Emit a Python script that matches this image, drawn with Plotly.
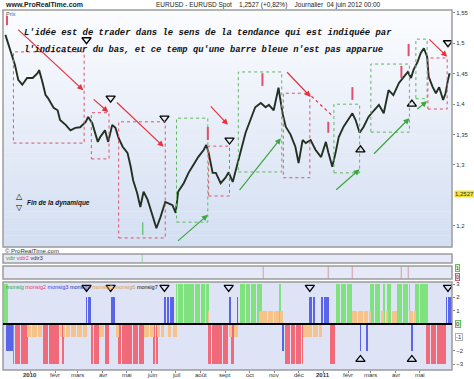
import plotly.graph_objects as go
import pandas as pd

# ---------------- DATA ----------------
price_dates = ["2009-12-01","2009-12-04","2009-12-10","2009-12-13","2009-12-17","2009-12-22","2009-12-28",
 "2010-01-04","2010-01-10","2010-01-12","2010-01-16","2010-01-20","2010-01-23","2010-01-30","2010-02-04",
 "2010-02-07","2010-02-14","2010-02-20","2010-02-26","2010-03-04","2010-03-11","2010-03-14","2010-03-19",
 "2010-03-26","2010-03-29","2010-04-04","2010-04-08","2010-04-13","2010-04-17","2010-04-21","2010-04-26",
 "2010-05-02","2010-05-06","2010-05-09","2010-05-14","2010-05-18","2010-05-22","2010-05-27","2010-05-31",
 "2010-06-07","2010-06-12","2010-06-18","2010-06-22","2010-06-27","2010-07-01","2010-07-04","2010-07-11",
 "2010-07-17","2010-07-23","2010-07-29","2010-08-05","2010-08-08","2010-08-11","2010-08-16","2010-08-20",
 "2010-08-26","2010-09-01","2010-09-05","2010-09-10","2010-09-16","2010-09-20","2010-09-26","2010-10-02",
 "2010-10-08","2010-10-15","2010-10-21","2010-10-25","2010-10-31","2010-11-06","2010-11-11","2010-11-15",
 "2010-11-21","2010-11-27","2010-12-01","2010-12-06","2010-12-10","2010-12-16","2010-12-22","2010-12-29",
 "2011-01-04","2011-01-07","2011-01-12","2011-01-16","2011-01-20","2011-01-26","2011-02-01","2011-02-06",
 "2011-02-10","2011-02-15","2011-02-20","2011-02-26","2011-03-05","2011-03-11","2011-03-17","2011-03-23",
 "2011-03-29","2011-04-05","2011-04-11","2011-04-16","2011-04-20","2011-04-23","2011-04-28","2011-05-02",
 "2011-05-06","2011-05-10","2011-05-12","2011-05-17","2011-05-21","2011-05-25","2011-05-30","2011-06-02",
 "2011-06-05","2011-06-07"]
price_close = [1.514,1.502,1.478,1.464,1.440,1.432,1.443,
 1.443,1.451,1.456,1.437,1.415,1.410,1.394,1.390,
 1.374,1.366,1.357,1.361,1.362,1.371,1.379,1.369,
 1.338,1.346,1.357,1.338,1.366,1.361,1.344,1.330,
 1.320,1.297,1.275,1.254,1.231,1.256,1.243,1.226,
 1.196,1.214,1.239,1.237,1.234,1.221,1.256,1.270,
 1.287,1.300,1.313,1.325,1.333,1.320,1.287,1.287,
 1.270,1.279,1.288,1.272,1.303,1.320,1.353,1.374,
 1.395,1.402,1.395,1.399,1.390,1.427,1.385,1.363,
 1.350,1.330,1.303,1.341,1.336,1.341,1.325,1.313,
 1.338,1.321,1.297,1.320,1.346,1.363,1.374,1.385,
 1.374,1.353,1.363,1.379,1.390,1.399,1.385,1.423,
 1.415,1.435,1.445,1.453,1.443,1.456,1.469,1.484,
 1.492,1.478,1.445,1.428,1.418,1.428,1.407,1.418,
 1.440,1.451]

last_quote = 1.2527
price_ticks = [1.2, 1.3, 1.35, 1.4, 1.45, 1.5, 1.55]
price_tick_labels = ["1,2", "1,3", "1,35", "1,4", "1,45", "1,5", "1,55"]

# zones drawn on the price chart: (start, end, low, high)
red_zones = [("2009-12-11","2010-03-09",1.336,1.486),("2010-03-18","2010-04-09",1.310,1.386),
             ("2010-04-21","2010-06-18",1.180,1.371),("2010-08-11","2010-09-06",1.249,1.331),
             ("2010-11-12","2010-12-15",1.279,1.418),("2011-05-11","2011-06-04",1.392,1.476)]
green_zones = [("2010-07-02","2010-08-10",1.206,1.377),("2010-09-17","2010-11-10",1.2885,1.453),
               ("2011-01-14","2011-02-15",1.287,1.400),("2011-03-01","2011-04-18",1.354,1.466),
               ("2011-04-26","2011-05-10",1.409,1.507)]
# arrows: (tail date, tail price, head date, head price)
red_arrows = [("2009-12-15",1.525,"2010-03-08",1.423),("2010-03-19",1.410,"2010-04-08",1.387),
              ("2010-04-17",1.405,"2010-06-16",1.330),("2010-08-12",1.399,"2010-09-04",1.366),
              ("2010-11-15",1.455,"2010-12-16",1.412),("2011-05-11",1.509,"2011-06-04",1.478)]
red_dotted_arrows = [("2010-12-17",1.413,"2011-01-12",1.381)]
green_arrows = [("2010-07-02",1.173,"2010-08-10",1.218),("2010-09-17",1.256,"2010-11-09",1.344),
                ("2011-01-15",1.257,"2011-02-15",1.293),("2011-03-03",1.316,"2011-04-18",1.377),
                ("2011-04-26",1.390,"2011-05-10",1.405)]
# short red marks: (date, low, high)
red_marks = [("2009-12-03",1.530,1.545),("2010-08-10",1.341,1.3625),("2010-10-17",1.430,1.451),
             ("2011-01-07",1.353,1.371),("2011-02-06",1.407,1.428),("2011-04-08",1.443,1.463),
             ("2011-04-17",1.479,1.499)]
green_marks = [("2010-05-21",1.185,1.206)]
tri_down_dates = ["2010-03-12","2010-04-11","2010-06-17","2010-09-06","2011-06-05"]
tri_down_prices = [1.506,1.410,1.377,1.341,1.501]
tri_up_dates = ["2011-02-16","2011-04-21"]
tri_up_prices = [1.325,1.400]

# vdtr panel / third panel events
vdtr_dates = ["2010-05-21"]
vdtr2_dates = ["2009-12-03","2010-08-10","2010-10-18","2011-01-07","2011-02-06","2011-04-08","2011-04-17"]

# monsig histogram: segments (start, end, value)
monsig = [("2009-11-27","2009-12-03",3),("2010-07-02","2010-08-10",3),("2010-09-20","2010-10-13",3),
          ("2010-10-15","2010-10-15",3),("2010-11-08","2010-11-08",3),("2011-01-17","2011-02-06",3),
          ("2011-03-01","2011-03-13",3),("2011-03-17","2011-03-20",3),("2011-03-22","2011-03-27",3),
          ("2011-04-04","2011-04-18",3),("2011-04-26","2011-05-10",3)]
monsig2 = [("2009-12-11","2009-12-28",-3),("2010-01-18","2010-02-07",-3),("2010-02-10","2010-02-11",-3),
           ("2010-03-18","2010-03-28",-3),("2010-04-05","2010-04-08",-3),("2010-04-21","2010-05-21",-3),
           ("2010-06-04","2010-06-08",-3),("2010-08-11","2010-09-03",-3),("2010-09-09","2010-09-10",-3),
           ("2010-11-15","2010-12-06",-3),("2011-01-10","2011-01-14",-3),("2011-05-10","2011-06-01",-3)]
monsig3 = [("2010-03-12","2010-03-17",2),("2010-04-12","2010-04-16",2),("2010-06-17","2010-06-22",2),
           ("2010-06-25","2010-06-28",2),("2010-09-06","2010-09-07",2),("2010-09-16","2010-09-16",2),
           ("2010-12-15","2010-12-17",2),("2010-12-20","2010-12-21",2),("2010-12-30","2011-01-07",2),
           ("2011-06-03","2011-06-09",2),
           ("2009-12-03","2009-12-10",-2),("2010-11-11","2010-11-12",-2),("2011-02-16","2011-02-16",-2),
           ("2011-02-24","2011-02-24",-2),("2011-04-21","2011-04-21",-2)]
monsig5 = [("2010-08-11","2010-08-11",1),("2010-10-14","2010-11-05",1),("2010-11-09","2010-11-10",1),
           ("2011-02-07","2011-02-28",1),("2011-03-14","2011-03-16",1),("2011-03-21","2011-03-21",1),
           ("2011-03-28","2011-04-03",1),("2011-04-19","2011-04-25",1),
           ("2009-12-29","2010-01-15",-1),("2010-02-08","2010-02-09",-1),("2010-02-12","2010-03-11",-1),
           ("2010-03-29","2010-04-02",-1),("2010-04-19","2010-04-20",-1),("2010-05-24","2010-06-03",-1),
           ("2010-06-09","2010-06-16",-1),("2010-06-23","2010-06-24",-1),("2010-06-29","2010-07-01",-1),
           ("2010-09-06","2010-09-08",-1),("2010-09-13","2010-09-15",-1),("2010-12-07","2010-12-29",-1)]
sig_tri_down_dates = ["2010-03-12","2010-04-11","2010-06-17","2010-09-05","2010-12-15","2011-06-05"]
sig_tri_up_dates = ["2011-02-16","2011-04-21"]

month_ticks = ["2010-01-01","2010-02-01","2010-03-01","2010-04-01","2010-05-01","2010-06-01","2010-07-01",
               "2010-08-01","2010-09-01","2010-10-01","2010-11-01","2010-12-01","2011-01-01","2011-02-01",
               "2011-03-01","2011-04-01","2011-05-01"]
month_labels = ["<b>2010</b>","févr","mars","avr","mai","juin","juil","août","sept","oct","nov","déc",
                "<b>2011</b>","févr","mars","avr","mai"]

# ---------------- STYLE / LAYOUT ----------------
W, H = 474, 379
def py(p):  # pixel row -> paper y
    return 1 - p / H
XD = [3 / W, 452 / W]
D_MAIN = [py(247), py(10)]
D_P2 = [py(263), py(254)]
D_P3 = [py(279), py(266)]
D_P4 = [py(370), py(282)]
XR = ["2009-11-28", "2011-06-10"]

RED = "#e8313a"
RED_Z = "#e0506a"
GREEN = "#3aa83a"
GREEN_Z = "#5cb85c"
C_GREEN = "#80e27e"
C_RED = "#f06a7a"
C_BLUE = "#5a64e6"
C_ORANGE = "#f6c48a"

fig = go.Figure()

# price line
fig.add_trace(go.Scatter(x=price_dates, y=price_close, mode="lines",
                         line=dict(color="#223022", width=1.9), xaxis="x", yaxis="y", hoverinfo="skip"))
# triangles on price
fig.add_trace(go.Scatter(x=tri_down_dates, y=tri_down_prices, mode="markers", xaxis="x", yaxis="y",
                         marker=dict(symbol="triangle-down-open", size=8, color="black", line=dict(width=1.3))))
fig.add_trace(go.Scatter(x=tri_up_dates, y=tri_up_prices, mode="markers", xaxis="x", yaxis="y",
                         marker=dict(symbol="triangle-up-open", size=8, color="black", line=dict(width=1.3))))

DAY = 86400000
def expand(segs):
    xs, ys = [], []
    for s, e, v in segs:
        for d in pd.bdate_range(s, e):
            xs.append(d)
            ys.append(v)
    return xs, ys

for segs, col in [(monsig, C_GREEN), (monsig2, C_RED), (monsig3, C_BLUE), (monsig5, C_ORANGE)]:
    xs, ys = expand(segs)
    fig.add_trace(go.Bar(x=xs, y=ys, marker=dict(color=col, line=dict(width=0)), width=0.8 * DAY,
                         xaxis="x4", yaxis="y4", hoverinfo="skip"))
fig.add_trace(go.Scatter(x=sig_tri_down_dates, y=[2.75] * len(sig_tri_down_dates), mode="markers",
                         xaxis="x4", yaxis="y4",
                         marker=dict(symbol="triangle-down-open", size=8, color="black", line=dict(width=1.3))))
fig.add_trace(go.Scatter(x=sig_tri_up_dates, y=[-2.65] * len(sig_tri_up_dates), mode="markers",
                         xaxis="x4", yaxis="y4",
                         marker=dict(symbol="triangle-up-open", size=8, color="black", line=dict(width=1.3))))

fig.add_trace(go.Bar(x=vdtr_dates, y=[1] * len(vdtr_dates), width=0.7 * DAY, marker=dict(color="#5cc05c"),
                     xaxis="x2", yaxis="y2", hoverinfo="skip"))
fig.add_trace(go.Bar(x=vdtr2_dates, y=[1] * len(vdtr2_dates), width=0.7 * DAY, marker=dict(color="#d0606e"),
                     xaxis="x3", yaxis="y3", hoverinfo="skip"))

shapes = []
# gradient background of the price panel
N = 40
top = (252, 253, 255)
bot = (212, 223, 243)
for i in range(N):
    t = (i + 0.5) / N
    c = tuple(int(top[k] + (bot[k] - top[k]) * t) for k in range(3))
    y1 = D_MAIN[1] - (D_MAIN[1] - D_MAIN[0]) * i / N
    y0 = D_MAIN[1] - (D_MAIN[1] - D_MAIN[0]) * (i + 1) / N
    shapes.append(dict(type="rect", xref="paper", yref="paper", x0=XD[0], x1=XD[1], y0=y0 - 0.001, y1=y1,
                       fillcolor="rgb(%d,%d,%d)" % c, line=dict(width=0), layer="below"))
for dom, col in [(D_P2, "#e6e9f8"), (D_P3, "#e6e9f8"), (D_P4, "#dfe3f6")]:
    shapes.append(dict(type="rect", xref="paper", yref="paper", x0=XD[0], x1=XD[1], y0=dom[0], y1=dom[1],
                       fillcolor=col, line=dict(width=0), layer="below"))
# panel frames
for dom in [D_MAIN, D_P2, D_P3, D_P4]:
    shapes.append(dict(type="rect", xref="paper", yref="paper", x0=XD[0], x1=XD[1], y0=dom[0], y1=dom[1],
                       line=dict(color="#9c9c9c", width=1.5), fillcolor="rgba(0,0,0,0)"))
# zero line
shapes.append(dict(type="line", xref="paper", yref="y4", x0=XD[0], x1=XD[1], y0=0, y1=0,
                   line=dict(color="black", width=2)))

for s, e, lo, hi in red_zones:
    shapes.append(dict(type="rect", xref="x", yref="y", x0=s, x1=e, y0=lo, y1=hi,
                       line=dict(color=RED_Z, width=1, dash="dot")))
for s, e, lo, hi in green_zones:
    shapes.append(dict(type="rect", xref="x", yref="y", x0=s, x1=e, y0=lo, y1=hi,
                       line=dict(color=GREEN_Z, width=1, dash="dot")))
for d, lo, hi in red_marks:
    shapes.append(dict(type="line", xref="x", yref="y", x0=d, x1=d, y0=lo, y1=hi,
                       line=dict(color=RED_Z, width=2)))
for d, lo, hi in green_marks:
    shapes.append(dict(type="line", xref="x", yref="y", x0=d, x1=d, y0=lo, y1=hi,
                       line=dict(color="#5cc05c", width=1.2)))
for a in red_dotted_arrows:
    shapes.append(dict(type="line", xref="x", yref="y", x0=a[0], y0=a[1], x1=a[2], y1=a[3],
                       line=dict(color=RED, width=1.2, dash="dot")))

ann = []
def arrow(a, col):
    ann.append(dict(x=a[2], y=a[3], ax=a[0], ay=a[1], xref="x", yref="y", axref="x", ayref="y",
                    showarrow=True, arrowhead=2, arrowsize=1, arrowwidth=1.2, arrowcolor=col, text=""))
for a in red_arrows:
    arrow(a, RED)
for a in green_arrows:
    arrow(a, GREEN)

def txt(x, y, s, size=6.5, color="#222", xanchor="left", family="Liberation Sans", **kw):
    d = dict(x=x, y=y, xref="paper", yref="paper", text=s, showarrow=False, xanchor=xanchor,
             yanchor="middle", font=dict(size=size, color=color, family=family))
    d.update(kw)
    ann.append(d)

txt(3 / W, py(5), "<b>www.ProRealTime.com</b>", size=7)
txt(268 / W, py(5), "EURUSD - EURUSD Spot &nbsp;&nbsp; 1,2527 (+0,82%) &nbsp;&nbsp; Journalier &nbsp;04 juin 2012 00:00",
    size=6.5, xanchor="center")
txt(4 / W, py(14), "Prix", size=5.5, color="#555")
txt(22 / W, py(33), "<b><i>L'idée est de trader dans le sens de la tendance qui est indiquée par</i></b>",
    size=8.9, family="Liberation Mono", color="#111")
txt(22 / W, py(50), "<b><i>l'indicateur du bas, et ce temp qu'une barre bleue n'est pas apparue</i></b>",
    size=8.8, family="Liberation Mono", color="#111")
txt(19 / W, py(196), "△", size=8, xanchor="center", family="DejaVu Sans", color="black")
txt(19 / W, py(207), "▽", size=8, xanchor="center", family="DejaVu Sans", color="black")
txt(25 / W, py(203), "<b><i>Fin de la dynamique</i></b>", size=6.5, color="#111")
txt(3 / W, py(251), "© ProRealTime.com", size=6, color="#333")
txt(4 / W, py(258), "<span style='color:#2fa82f'>vdtr</span> <span style='color:#e0406a'>vdtr2</span> "
    "<span style='color:#333'>vdtr3</span>", size=5.5)
txt(4 / W, py(287), "<span style='color:#2fa82f'>monsig</span> <span style='color:#e0406a'>monsig2</span> "
    "<span style='color:#3a3ae0'>monsig3</span> <span style='color:#2a2a90'>monsig4</span> "
    "<span style='color:#e0a040'>monsig5</span> <span style='color:#d0a050'>monsig6</span> "
    "<span style='color:#111'>monsig7</span>", size=5.5)
# month labels under the last panel
for d, s in zip(month_ticks, month_labels):
    ann.append(dict(x=d, y=py(375), xref="x4", yref="paper", text=s, showarrow=False, xanchor="center",
                    yanchor="middle", font=dict(size=6, color="#333", family="Liberation Sans")))
# last quote box
ann.append(dict(x=454 / W, y=last_quote, xref="paper", yref="y", text="1,2527", showarrow=False,
                xanchor="left", yanchor="middle", bgcolor="#f2e23a", borderpad=0,
                font=dict(size=6, color="#333", family="Liberation Sans")))
ann.append(dict(x=455 / W, y=0, xref="paper", yref="y4", text="0", showarrow=False, xanchor="left",
                yanchor="middle", bgcolor="#d8f2d8", bordercolor="#60c060", borderwidth=1, borderpad=0,
                font=dict(size=6, color="#333", family="Liberation Sans")))
ann.append(dict(x=455 / W, y=-1, xref="paper", yref="y4", text="-1", showarrow=False, xanchor="left",
                yanchor="middle", bgcolor="#ffffff", bordercolor="#b0b0b0", borderwidth=1, borderpad=0,
                font=dict(size=6, color="#333", family="Liberation Sans")))
for yv, s, bg, bc in [(1, "1", "#d8f2d8", "#60c060"), (0, "0", "#f6d8dc", "#d06070")]:
    ann.append(dict(x=455 / W, y=yv * 0.7 + 0.15, xref="paper", yref="y3", text=s, showarrow=False,
                    xanchor="left", yanchor="middle", bgcolor=bg, bordercolor=bc, borderwidth=1, borderpad=0,
                    font=dict(size=5, color="#333", family="Liberation Sans")))

axfont = dict(size=6, color="#333", family="Liberation Sans")
xcommon = dict(type="date", range=XR, showgrid=False, zeroline=False, showline=False, domain=XD)
fig.update_layout(
    width=W, height=H, margin=dict(l=0, r=0, t=0, b=0), showlegend=False,
    paper_bgcolor="white", plot_bgcolor="rgba(0,0,0,0)", barmode="overlay", bargap=0,
    xaxis=dict(anchor="y", showticklabels=False, ticks="", **xcommon),
    xaxis2=dict(anchor="y2", matches="x", showticklabels=False, ticks="", **xcommon),
    xaxis3=dict(anchor="y3", matches="x", showticklabels=False, ticks="", **xcommon),
    xaxis4=dict(anchor="y4", matches="x", tickvals=month_ticks, showticklabels=False, ticks="outside",
                ticklen=2, tickcolor="#888", **xcommon),
    yaxis=dict(domain=D_MAIN, range=[1.1651, 1.5549], side="right", anchor="x", tickvals=price_ticks,
               ticktext=price_tick_labels, ticks="outside", ticklen=2, tickcolor="#888", tickfont=axfont,
               showgrid=False, zeroline=False),
    yaxis2=dict(domain=D_P2, range=[0, 1], anchor="x2", showticklabels=False, showgrid=False, zeroline=False),
    yaxis3=dict(domain=D_P3, range=[0, 1], anchor="x3", showticklabels=False, showgrid=False, zeroline=False),
    yaxis4=dict(domain=D_P4, range=[-3.44, 3.15], side="right", anchor="x4", tickvals=[3, 2, 1, -2, -3],
                ticks="outside", ticklen=2, tickcolor="#888", tickfont=axfont, showgrid=False, zeroline=False),
    shapes=shapes, annotations=ann,
)
fig.write_html("out.html", config={"displayModeBar": False},
               post_script="document.body.style.margin='0';document.body.style.overflow='hidden';")
